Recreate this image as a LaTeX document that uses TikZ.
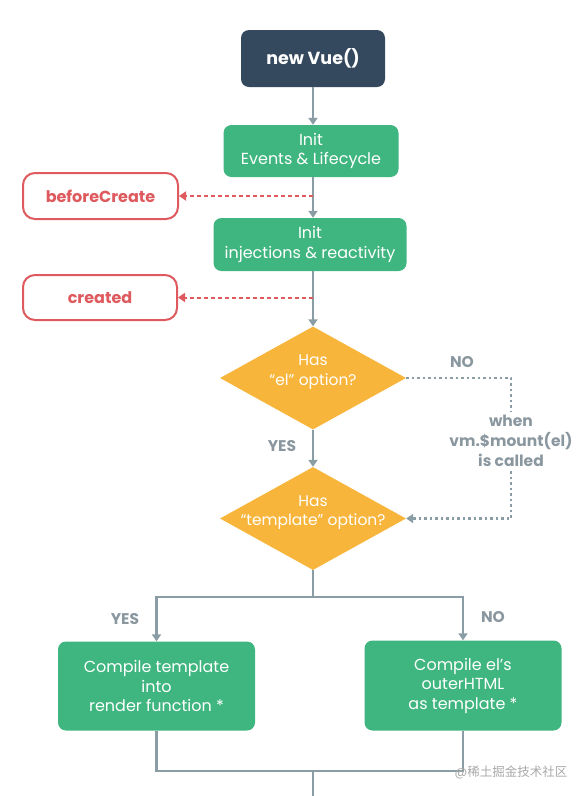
\documentclass[tikz,border=0pt]{standalone}
\usepackage{fontspec}
\setmainfont{Poppins}
\newfontfamily\cjkfont{Noto Sans CJK SC}
\usetikzlibrary{shapes.geometric,arrows.meta}
\definecolor{vnavy}{HTML}{35495E}
\definecolor{vgreen}{HTML}{3FB67F}
\definecolor{vorange}{HTML}{F8B53B}
\definecolor{vred}{HTML}{DE5A5E}
\definecolor{vline}{HTML}{8A9CA4}
\definecolor{vtext}{HTML}{8A979F}
\definecolor{vwm}{HTML}{A8A8A8}
\begin{document}
\begin{tikzpicture}[x=1pt,y=-1pt,
  navybox/.style={rounded corners=8pt, fill=vnavy, text=white, inner sep=0pt,
    font=\fontsize{17.5}{20}\selectfont\bfseries},
  greenbox/.style={rounded corners=8pt, fill=vgreen, text=white, inner sep=0pt,
    align=center, font=\fontsize{16}{19.5}\selectfont},
  redbox/.style={rounded corners=12pt, draw=vred, line width=2pt, fill=white, text=vred,
    inner sep=0pt, font=\fontsize{16}{18}\selectfont\bfseries},
  decision/.style={diamond, fill=vorange, inner sep=0pt},
  dtext/.style={text=white, align=center, inner sep=0pt, font=\fontsize{15.5}{19.5}\selectfont},
  glabel/.style={text=vtext, inner sep=0pt, font=\fontsize{15.5}{20}\selectfont\bfseries},
  gline/.style={draw=vline, line width=2.5pt},
  garrow/.style={gline, -{Triangle[width=9pt,length=7pt]}},
  gdot/.style={draw=vline, line width=2.5pt, dash pattern=on 2.5pt off 3pt},
  rdash/.style={draw=vred, line width=2pt, dash pattern=on 4pt off 3pt,
    -{Triangle[width=9pt,length=7pt]}},
  wm/.style={text=vwm, inner sep=0pt, font=\fontsize{12.5}{14}\selectfont}
]
\useasboundingbox (0,0) rectangle (585,796);

\node[navybox, minimum width=144pt, minimum height=57pt] (vue) at (313,58.5) {new Vue()};
\node[greenbox, minimum width=175pt, minimum height=52pt] (init1) at (311,151) {Init\\Events \& Lifecycle};
\node[greenbox, minimum width=193pt, minimum height=53pt] (init2) at (310,244.5) {Init\\injections \& reactivity};
\node[redbox, minimum width=155pt, minimum height=46pt] (bc) at (100.5,196) {beforeCreate};
\node[redbox, minimum width=154pt, minimum height=45pt] (cr) at (100,297.5) {created};

\node[decision, minimum width=186pt, minimum height=103pt] (d1) at (313,378) {};
\node[dtext] (d1t) at (313,372) {Has\\“el” option?};
\node[decision, minimum width=186pt, minimum height=103pt] (d2) at (313,518.5) {};
\node[dtext] (d2t) at (313,512.5) {Has\\“template” option?};

\node[greenbox, minimum width=197pt, minimum height=89pt] (left) at (156.5,686) {Compile template\\into\\render function *};
\node[greenbox, minimum width=197pt, minimum height=90pt] (right) at (463,685.5) {Compile el’s\\outerHTML\\as template *};

% main flow
\draw[garrow] (vue) -- (vue |- init1.north);
\draw[garrow] (init1.south -| vue) -- (vue |- init2.north);
\draw[garrow] (init2.south -| vue) -- (d1);
\draw[garrow] (d1) -- (d2);

% hooks
\coordinate (bcj) at (313,196);
\coordinate (crj) at (313,297.5);
\draw[rdash] (bcj) -- (bc);
\draw[rdash] (crj) -- (cr);

% labels
\node[glabel] (yes1) at (282,446) {YES};
\node[glabel] (no1) at (462,362) {NO};
\node[glabel, align=center, inner ysep=4pt] (when) at (511,441) {when\\vm.\$mount(el)\\is called};

\draw[gdot] (d1.east) -| (when.north);
\draw[gdot, -{Triangle[width=9pt,length=7pt]}] (when.south) |- (d2.east);

% split
\coordinate (split) at (313,597);
\draw[gline] (d2) -- (split);
\draw[garrow] (split) -| (left);
\draw[garrow] (split) -| (right);
\node[glabel] (yes2) at (125,619) {YES};
\node[glabel] (no2) at (493,617) {NO};

% merge
\coordinate (merge) at (313,771);
\coordinate (bot) at (313,796);
\draw[gline] (left) |- (merge);
\draw[gline] (right) |- (merge);
\draw[gline] (merge) -- (bot);

\node[wm] (wmk) at (511,772) {@\cjkfont 稀土掘金技术社区};
\end{tikzpicture}
\end{document}
